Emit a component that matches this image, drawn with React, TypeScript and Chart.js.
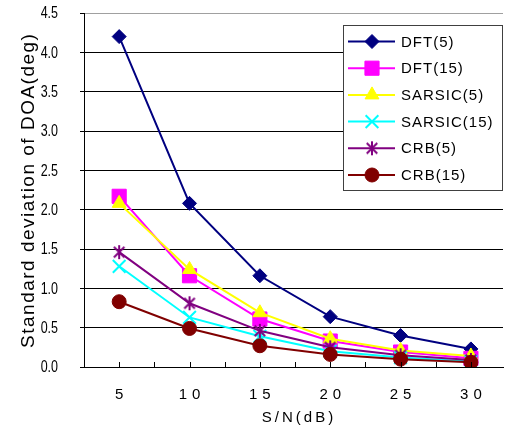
import React, { useEffect, useRef } from 'react';
import { Chart, registerables } from 'chart.js';
import { drawPoint } from 'chart.js/helpers';

Chart.register(...registerables);

// ---- data ----
const SNR = [5, 10, 15, 20, 25, 30];
const X_TICK_LABELS = ['5', '10', '15', '20', '25', '30'];
const Y_TICKS = [0, 0.5, 1, 1.5, 2, 2.5, 3, 3.5, 4, 4.5];
const DFT_5 = [4.2, 2.08, 1.16, 0.64, 0.4, 0.23];
const DFT_15 = [2.17, 1.16, 0.61, 0.33, 0.19, 0.11];
const SARSIC_5 = [2.08, 1.24, 0.69, 0.36, 0.21, 0.14];
const SARSIC_15 = [1.28, 0.63, 0.39, 0.2, 0.12, 0.07];
const CRB_5 = [1.46, 0.81, 0.46, 0.25, 0.15, 0.09];
const CRB_15 = [0.83, 0.49, 0.27, 0.16, 0.1, 0.06];
const SERIES_NAMES = ['DFT(5)', 'DFT(15)', 'SARSIC(5)', 'SARSIC(15)', 'CRB(5)', 'CRB(15)'];
const SERIES_VALUES = [DFT_5, DFT_15, SARSIC_5, SARSIC_15, CRB_5, CRB_15];
const Y_TITLE = 'Standard deviation of DOA(deg)';
const X_TITLE = 'S/N(dB)';
const Y_MIN = 0;
const Y_MAX = 4.5;
const Y_STEP = 0.5;

function makeStar(color: string, r: number): HTMLCanvasElement {
  const s = Math.ceil(2 * r + 4);
  const c = document.createElement('canvas');
  c.width = s;
  c.height = s;
  const g = c.getContext('2d')!;
  g.strokeStyle = color;
  g.lineWidth = 2;
  const m = s / 2;
  const d = r * 0.75;
  g.beginPath();
  g.moveTo(m, m - r);
  g.lineTo(m, m + r);
  g.moveTo(m - d, m - d);
  g.lineTo(m + d, m + d);
  g.moveTo(m + d, m - d);
  g.lineTo(m - d, m + d);
  g.stroke();
  return c;
}

type Style = { color: string; pointStyle: any; radius: number; borderWidth: number; fill: string };

function buildStyles(): Style[] {
  return [
    { color: '#000080', pointStyle: 'rectRot', radius: 7, borderWidth: 1, fill: '#000080' },
    { color: '#FF00FF', pointStyle: 'rect', radius: 10, borderWidth: 1, fill: '#FF00FF' },
    { color: '#FFFF00', pointStyle: 'triangle', radius: 8, borderWidth: 1, fill: '#FFFF00' },
    { color: '#00FFFF', pointStyle: 'crossRot', radius: 9, borderWidth: 2, fill: '#00FFFF' },
    { color: '#800080', pointStyle: makeStar('#800080', 7), radius: 7, borderWidth: 2, fill: '#800080' },
    { color: '#800000', pointStyle: 'circle', radius: 7, borderWidth: 1, fill: '#800000' },
  ];
}

function spacedText(ctx: CanvasRenderingContext2D, text: string, cx: number, cy: number, ls: number) {
  (ctx as any).letterSpacing = ls + 'px';
  const w = ctx.measureText(text).width - ls;
  ctx.textAlign = 'left';
  ctx.fillText(text, cx - w / 2, cy);
}

export default function App() {
  const ref = useRef<HTMLCanvasElement>(null);
  useEffect(() => {
    document.body.style.margin = '0';
    document.body.style.overflow = 'hidden';
    const styles = buildStyles();
    const overlay = {
      id: 'overlay',
      afterDraw(chart: any) {
        const { ctx, chartArea } = chart;
        const x = chart.scales.x;
        const y = chart.scales.y;
        ctx.save();
        // inward tick marks on x axis
        ctx.strokeStyle = '#000';
        ctx.lineWidth = 1;
        ctx.beginPath();
        for (let v = 2.5; v <= 35; v += 2.5) {
          const px = Math.round(x.getPixelForValue(v)) + 0.5;
          if (px > chartArea.right) break;
          ctx.moveTo(px, chartArea.bottom);
          ctx.lineTo(px, chartArea.bottom - 5);
        }
        ctx.stroke();
        ctx.fillStyle = '#000';
        ctx.textBaseline = 'middle';
        // y tick labels (condensed)
        ctx.font = '16px "Liberation Sans", Arial, sans-serif';
        (ctx as any).letterSpacing = '0px';
        Y_TICKS.forEach((v) => {
          const py = y.getPixelForValue(v);
          ctx.save();
          ctx.translate(58, py);
          ctx.scale(0.78, 1);
          ctx.textAlign = 'right';
          ctx.fillText(v.toFixed(1), 0, 1);
          ctx.restore();
        });
        // x tick labels
        ctx.font = '15px "Liberation Sans", Arial, sans-serif';
        SNR.forEach((v, i) => {
          spacedText(ctx, X_TICK_LABELS[i], x.getPixelForValue(v), chartArea.bottom + 28, 5);
        });
        // x title
        spacedText(ctx, X_TITLE, (chartArea.left + chartArea.right) / 2 + 4, chartArea.bottom + 51, 3);
        // y title
        ctx.save();
        ctx.translate(29, (chartArea.top + chartArea.bottom) / 2 + 1);
        ctx.rotate(-Math.PI / 2);
        ctx.font = '19px "Liberation Sans", Arial, sans-serif';
        spacedText(ctx, Y_TITLE, 0, 0, 1.5);
        ctx.restore();
        // legend
        (ctx as any).letterSpacing = '0px';
        const bx = 343.5, by = 25.5, bw = 159, bh = 165;
        ctx.fillStyle = '#fff';
        ctx.fillRect(bx, by, bw, bh);
        ctx.strokeStyle = '#404040';
        ctx.lineWidth = 1;
        ctx.strokeRect(bx, by, bw, bh);
        SERIES_NAMES.forEach((name, i) => {
          const st = styles[i];
          const cy = 41.5 + i * 26.7;
          ctx.strokeStyle = st.color;
          ctx.lineWidth = 2;
          ctx.beginPath();
          ctx.moveTo(348, cy);
          ctx.lineTo(395, cy);
          ctx.stroke();
          ctx.fillStyle = st.fill;
          ctx.strokeStyle = st.color;
          ctx.lineWidth = st.borderWidth;
          drawPoint(ctx, { pointStyle: st.pointStyle, radius: st.radius, borderWidth: st.borderWidth, rotation: 0 } as any, 372, cy);
          ctx.fillStyle = '#000';
          ctx.font = '15px "Liberation Sans", Arial, sans-serif';
          (ctx as any).letterSpacing = '1px';
          ctx.textAlign = 'left';
          ctx.textBaseline = 'middle';
          ctx.fillText(name, 401, cy + 1);
        });
        ctx.restore();
      },
    };

    const datasets = SERIES_VALUES.map((vals, i) => {
      const st = styles[i];
      return {
        label: SERIES_NAMES[i],
        data: vals.map((v, j) => ({ x: SNR[j], y: v })),
        borderColor: st.color,
        backgroundColor: st.fill,
        borderWidth: 2,
        pointStyle: st.pointStyle,
        pointRadius: st.radius,
        pointBorderWidth: st.borderWidth,
        pointBorderColor: st.color,
        pointBackgroundColor: st.fill,
        tension: 0,
        order: SERIES_NAMES.length - i,
      };
    });

    const chart = new Chart(ref.current!, {
      type: 'line',
      data: { datasets },
      options: {
        animation: false,
        responsive: false,
        events: [],
        layout: { padding: { top: 13, left: 0, right: 0, bottom: 0 } },
        plugins: { legend: { display: false }, tooltip: { enabled: false }, title: { display: false } },
        scales: {
          x: {
            type: 'linear',
            min: 2.5,
            max: 32.28,
            ticks: { display: false },
            grid: { drawOnChartArea: false, drawTicks: false },
            border: { display: true, color: '#000', width: 1 },
            afterFit: (s: any) => {
              s.height = 70;
              s.paddingLeft = 0;
              s.paddingRight = 0;
            },
          },
          y: {
            type: 'linear',
            min: Y_MIN,
            max: Y_MAX,
            ticks: { stepSize: Y_STEP, display: false },
            grid: {
              color: (c: any) => (c.tick && Math.abs(c.tick.value - Y_MAX) < 1e-6 ? '#a0a0a0' : '#000'),
              tickColor: '#000',
              tickLength: 4,
              lineWidth: 1,
            },
            border: { display: true, color: '#000', width: 1 },
            afterFit: (s: any) => {
              s.width = 84;
              s.paddingTop = 0;
              s.paddingBottom = 0;
            },
          },
        },
      },
      plugins: [overlay],
    } as any);
    return () => chart.destroy();
  }, []);
  return (
    <div style={{ width: 514, height: 437, background: '#fff' }}>
      <canvas ref={ref} width={514} height={437} style={{ display: 'block' }} />
    </div>
  );
}
